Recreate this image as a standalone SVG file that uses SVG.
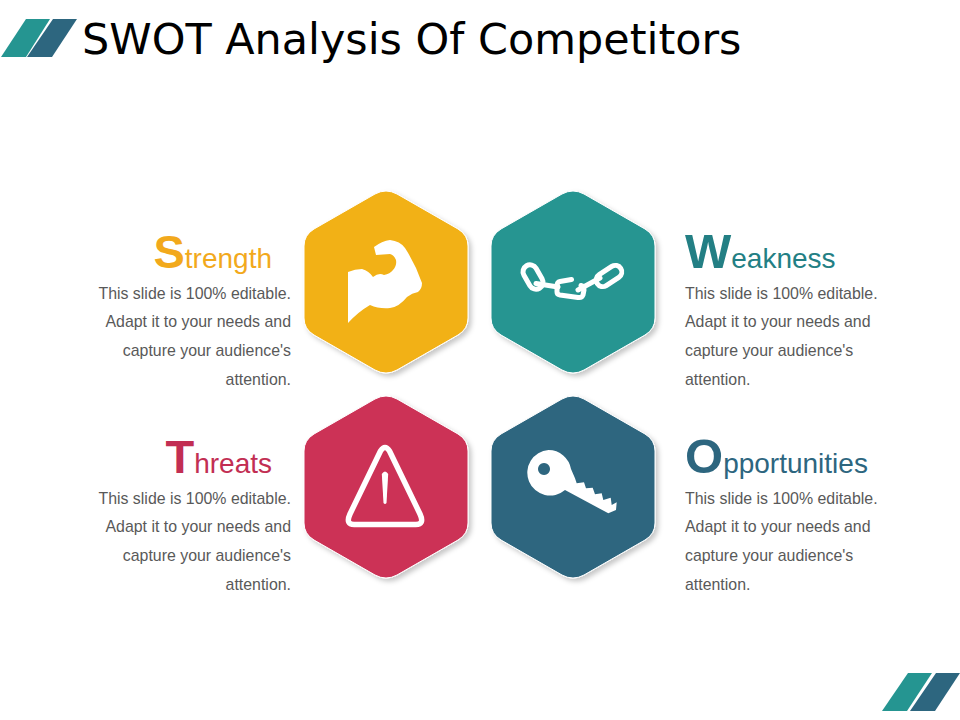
<svg xmlns="http://www.w3.org/2000/svg" width="960" height="720" viewBox="0 0 960 720">
<style>
.body{font-family:"Liberation Sans",Arial,sans-serif;font-size:15.9px;fill:#595959}
.r{text-anchor:end}
.head{font-family:"Liberation Sans",Arial,sans-serif;font-size:28px}
.cap{font-size:47px;font-weight:bold}
.capw{font-size:49px;font-weight:bold}
.title{font-family:"DejaVu Sans",sans-serif;font-size:42.9px;fill:#000}
.hex{stroke:#fff;stroke-width:1;filter:url(#sh)}
.ln{fill:none;stroke:#fff;stroke-width:5;stroke-linecap:round;stroke-linejoin:round}
.ic{fill:#fff}
.teal{fill:#259591}.blue{fill:#2d667f}
</style>
<defs>
<filter id="sh" x="-15%" y="-15%" width="135%" height="135%">
<feDropShadow dx="3" dy="3" stdDeviation="2.5" flood-color="#000" flood-opacity="0.22"/>
</filter>
<path id="hexp" d="M-11,-88 Q0,-94 11,-88 L72,-53 Q82,-47 82,-36 L82,36 Q82,47 72,53 L11,88 Q0,94 -11,88 L-72,53 Q-82,47 -82,36 L-82,-36 Q-82,-47 -72,-53 Z"/>
</defs>

<g id="logo-top">
<polygon class="teal" points="26,19 50,19 26,57 1,57"/>
<polygon class="blue" points="53,19 77,19 52,57 27,57"/>
</g>
<text class="title" x="82" y="54">SWOT Analysis Of Competitors</text>

<g id="node-strength">
<use href="#hexp" x="386" y="282" class="hex" fill="#f2b118"/>
<path class="ic" d="M348,272 Q355,269 362,269 Q369,271 373,277 Q379,272 384,275 Q390,274 393,270 Q397,266 396,260 Q394,255 390,254 L376,255 L374,247 Q382,241 390,240 Q400,241 405,248 Q416,265 422,283 Q422,289 418,292 Q412,293 407,297 Q399,307 390,308 Q379,309 370,305 Q358,312 348,323 Z"/>
<text class="head" x="272" y="268" text-anchor="end" fill="#f2a91c"><tspan class="cap">S</tspan>trength</text>
<text class="body r" x="291" y="299">This slide is 100% editable.</text>
<text class="body r" x="291" y="327">Adapt it to your needs and</text>
<text class="body r" x="291" y="356">capture your audience's</text>
<text class="body r" x="291" y="385">attention.</text>
</g>

<g id="node-weakness">
<use href="#hexp" x="573" y="282" class="hex" fill="#259591"/>
<rect class="ln" x="526" y="264" width="14" height="26" rx="7" transform="rotate(-30 533 277)"/>
<rect class="ln" x="595" y="269.500" width="28" height="13" rx="6.500" transform="rotate(-33 609 276)"/>
<path class="ln" d="M571.500,279.500 L560,281.500 Q557,282 557,286 L557,292 Q557,294.500 560,295 L578,297.500 Q582,298 583,295 L584,290 Q584,286 581,285.500"/>
<path class="ln" d="M536,283.500 L558,287 M578,290 L600,278"/>
<text class="head" x="685" y="268" fill="#237f84"><tspan class="capw">W</tspan>eakness</text>
<text class="body" x="685" y="299">This slide is 100% editable.</text>
<text class="body" x="685" y="327">Adapt it to your needs and</text>
<text class="body" x="685" y="356">capture your audience's</text>
<text class="body" x="685" y="385">attention.</text>
</g>

<g id="node-threats">
<use href="#hexp" x="386" y="487" class="hex" fill="#cc3157"/>
<path d="M380.500,451 Q385,444 389.500,451 L420,514 Q425,525 415,524.500 L355,524.500 Q345,525 350,514 Z" fill="none" stroke="#fff" stroke-width="5.500" stroke-linejoin="round"/>
<path class="ic" d="M381.800,474 Q385,469 388.200,474 L386.500,503 Q385,505 383.500,503 Z"/>
<text class="head" x="272" y="473" text-anchor="end" fill="#c22e53"><tspan class="cap">T</tspan>hreats</text>
<text class="body r" x="291" y="504">This slide is 100% editable.</text>
<text class="body r" x="291" y="532">Adapt it to your needs and</text>
<text class="body r" x="291" y="561">capture your audience's</text>
<text class="body r" x="291" y="590">attention.</text>
</g>

<g id="node-opportunities">
<use href="#hexp" x="573" y="487" class="hex" fill="#2d667f"/>
<path class="ic" fill-rule="evenodd" d="M548.500,450 A22.800,22.800 0 0 1 571,469 L575,478.300 L576.700,483.300 L584,482.300 L586,488.300 L592.700,487.700 L595,494.300 L601.700,493.300 L603.300,500 L610.700,497.700 L611.700,505 L616.700,502.300 L616,510 L608.300,513.300 L565,490 A22.800,22.800 0 1 1 548.500,450 Z M544,463 a6,6 0 1 0 0.010,0 Z"/>
<text class="head" x="685" y="473" fill="#2d667f"><tspan class="capw">O</tspan>pportunities</text>
<text class="body" x="685" y="504">This slide is 100% editable.</text>
<text class="body" x="685" y="532">Adapt it to your needs and</text>
<text class="body" x="685" y="561">capture your audience's</text>
<text class="body" x="685" y="590">attention.</text>
</g>

<g id="logo-bottom">
<polygon class="teal" points="908,673 932,673 907,711 882,711"/>
<polygon class="blue" points="936,673 960,673 935,711 910,711"/>
</g>
</svg>
